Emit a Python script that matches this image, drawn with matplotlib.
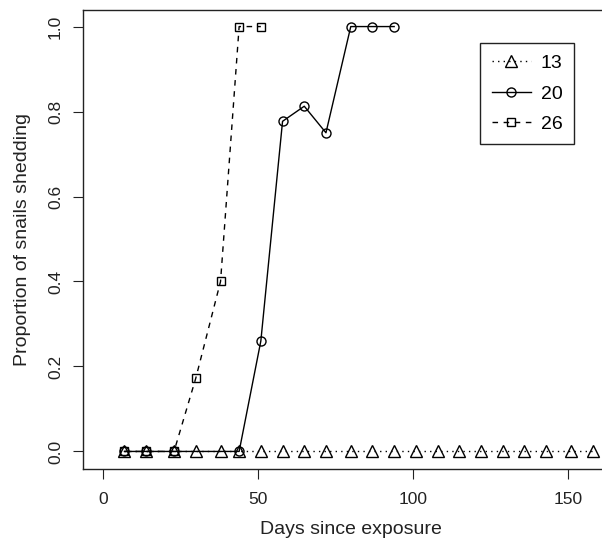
import numpy as np
import matplotlib
matplotlib.use("Agg")
import matplotlib.pyplot as plt

plt.rcParams['font.family'] = ['Liberation Sans', 'DejaVu Sans']

# read data (values estimated from the figure)
days13 = [7, 14, 23, 30, 38, 44, 51, 58, 65, 72, 80, 87, 94, 101, 108, 115, 122, 129, 136, 143, 151, 158]
prop13 = [0.0] * len(days13)

days20 = [7, 14, 23, 44, 51, 58, 65, 72, 80, 87, 94]
prop20 = [0.0, 0.0, 0.0, 0.0, 0.26, 0.777, 0.8125, 0.75, 1.0, 1.0, 1.0]

days26 = [7, 14, 23, 30, 38, 44, 51]
prop26 = [0.0, 0.0, 0.0, 0.172, 0.40, 1.0, 1.0]

xticks = [0, 50, 100, 150]
yticks = [0.0, 0.2, 0.4, 0.6, 0.8, 1.0]

# plot it
fig = plt.figure(figsize=(6.02, 5.46), dpi=100)
ax = fig.add_axes([0.1374, 0.1405, 1.0287 - 0.1374, 0.9817 - 0.1405])

ax.plot(days13, prop13, ls=(0, (1, 3)), lw=1.0, color="black", marker="^", ms=8.5,
        mfc="none", mec="black", mew=1.0, label="13")
ax.plot(days20, prop20, ls="-", lw=1.0, color="black", marker="o", ms=6.5,
        mfc="none", mec="black", mew=1.0, label="20")
ax.plot(days26, prop26, ls=(0, (4, 4)), lw=1.0, color="black", marker="s", ms=6,
        mfc="none", mec="black", mew=1.0, label="26")

ax.set_xlim(-6.45, 166.6)
ax.set_ylim(-0.042, 1.039)
ax.set_xticks(xticks)
ax.set_xticklabels([str(t) for t in xticks])
ax.set_yticks(yticks)
ax.set_yticklabels(["%.1f" % t for t in yticks], rotation=90, va="center")
ax.tick_params(direction="out", length=7.2, width=0.8, labelsize=12.5, colors="#222222")
ax.tick_params(axis="x", pad=9)
ax.tick_params(axis="y", pad=7)
for sp in ax.spines.values():
    sp.set_color("#222222")
    sp.set_linewidth(1.0)

ax.set_xlabel("Days since exposure", fontsize=14, color="#222222", labelpad=10)
ax.set_ylabel("Proportion of snails shedding", fontsize=14, color="#222222", labelpad=12)

leg = ax.legend(loc="upper right", bbox_to_anchor=(0.9535, 0.9212), bbox_transform=fig.transFigure,
                borderaxespad=0, fancybox=False, edgecolor="#222222", framealpha=1, fontsize=14,
                handlelength=2.0, borderpad=0.6, labelspacing=0.65, handletextpad=0.5)
leg.get_frame().set_linewidth(1.0)

fig.savefig("out.png", dpi=100)
